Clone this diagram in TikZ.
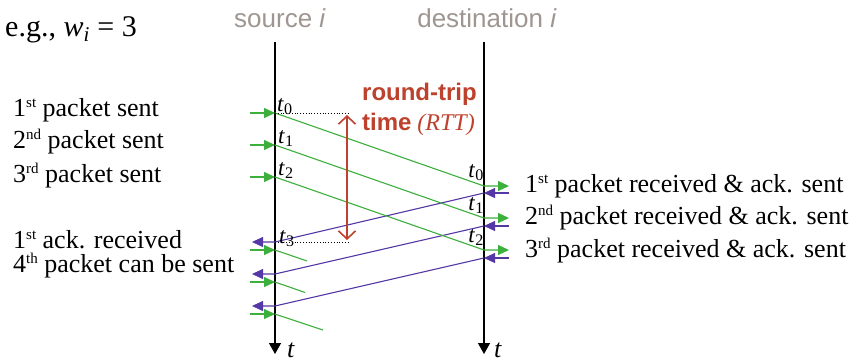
\documentclass[tikz,border=0pt]{standalone}
\usepackage{fontspec}
\setmainfont{Liberation Serif}
\setsansfont{Liberation Sans}
\usetikzlibrary{arrows.meta}
\definecolor{pgreen}{RGB}{60,175,60}
\definecolor{ppurple}{RGB}{85,55,165}
\definecolor{rttred}{RGB}{190,65,45}
\definecolor{lblgray}{RGB}{160,150,145}
\newcommand{\tsub}[1]{\textit{t}\textsubscript{#1}}
\newcommand{\ordsup}[1]{\raisebox{8.5pt}{\fontsize{15}{15}\selectfont #1}}
\tikzset{
  axis/.style={line width=1.3pt,-{Triangle[length=11pt,width=12pt]}},
  pkt/.style={pgreen,line width=1.1pt},
  pkthead/.style={pgreen,line width=1.1pt,-{Triangle[length=11pt,width=10pt]}},
  ack/.style={ppurple,line width=1.1pt},
  ackhead/.style={ppurple,line width=1.1pt,-{Triangle[length=11pt,width=10pt]}},
  rtt/.style={rttred,line width=1.6pt,{Straight Barb[length=8pt,width=17pt]}-{Straight Barb[length=8pt,width=17pt]}},
  guide/.style={black,line width=0.8pt,dotted},
  lbl/.style={font=\fontsize{26}{28}\selectfont,inner sep=0pt},
  tlbl/.style={font=\fontsize{23}{25}\selectfont,inner sep=0pt},
  head/.style={font=\fontsize{26}{28}\sffamily\selectfont,text=lblgray,inner sep=0pt},
}
\begin{document}
\begin{tikzpicture}[x=1pt,y=-1pt]
\useasboundingbox[fill=white] (0,0) rectangle (860,362);
% axes
\coordinate (Stop) at (275,42);
\coordinate (Sbot) at (275,354);
\coordinate (Dtop) at (484,42);
\coordinate (Dbot) at (484,354);
\draw[axis] (Stop) -- (Sbot);
\draw[axis] (Dtop) -- (Dbot);
\node[head,anchor=base] (src) at (280,27) {source \textit{i}};
\node[head,anchor=base] (dst) at (487,27) {destination \textit{i}};
\node[lbl,anchor=base] (ts) at (291,357) {\textit{t}};
\node[lbl,anchor=base] (td) at (498,357) {\textit{t}};
% source send points
\coordinate (S0) at (275,113);
\coordinate (S1) at (275,145);
\coordinate (S2) at (275,177);
\coordinate (Si0) at (250,113);
\coordinate (Si1) at (250,145);
\coordinate (Si2) at (250,177);
% destination receive points
\coordinate (D0) at (484,186);
\coordinate (D1) at (484,218);
\coordinate (D2) at (484,250);
\coordinate (Do0) at (509,186);
\coordinate (Do1) at (509,218);
\coordinate (Do2) at (509,250);
% ack points
\coordinate (A0) at (484,193);
\coordinate (A1) at (484,226);
\coordinate (A2) at (484,258);
\coordinate (Ai0) at (509,193);
\coordinate (Ai1) at (509,226);
\coordinate (Ai2) at (509,258);
\coordinate (R0) at (275,242);
\coordinate (R1) at (275,274);
\coordinate (R2) at (275,306);
\coordinate (Ro0) at (252,242);
\coordinate (Ro1) at (252,274);
\coordinate (Ro2) at (252,306);
% new packets
\coordinate (N0) at (275,250);
\coordinate (N1) at (275,282);
\coordinate (N2) at (275,314);
\coordinate (Ni0) at (250,250);
\coordinate (Ni1) at (250,282);
\coordinate (Ni2) at (250,314);
\coordinate (Ne0) at (307,261);
\coordinate (Ne1) at (305,292.5);
\coordinate (Ne2) at (323,330);
\foreach \k in {0,1,2}{
  \draw[pkthead] (Si\k) -- (S\k);
  \draw[pkthead] (S\k) -- (D\k) -- (Do\k);
  \draw[ackhead] (Ai\k) -- (A\k);
  \draw[ackhead] (A\k) -- (R\k) -- (Ro\k);
  \draw[pkthead] (Ni\k) -- (N\k);
  \draw[pkt] (N\k) -- (Ne\k);
}
% RTT
\coordinate (G0) at (349,113);
\coordinate (G1) at (349,242);
\draw[guide] (S0) -- (G0);
\draw[guide] (R0) -- (G1);
\coordinate (Rt) at (347,115);
\coordinate (Rb) at (347,240);
\draw[rtt] (Rt) -- (Rb);
\node[anchor=base east,inner sep=0pt,text=rttred,font=\fontsize{24}{26}\sffamily\bfseries\selectfont] (rt1) at (477,100) {round-trip};
\node[anchor=base east,inner sep=0pt,text=rttred,font=\fontsize{24}{26}\selectfont] (rt2) at (475,130) {{\sffamily\bfseries time} \textit{(RTT)}};
% t labels
\node[tlbl,anchor=base west] (st0) at (277,111) {\tsub{0}};
\node[tlbl,anchor=base west] (st1) at (278,143) {\tsub{1}};
\node[tlbl,anchor=base west] (st2) at (278,175) {\tsub{2}};
\node[tlbl,anchor=base west] (st3) at (279,243) {\tsub{3}};
\node[tlbl,anchor=base east] (dt0) at (484,177) {\tsub{0}};
\node[tlbl,anchor=base east] (dt1) at (484,210) {\tsub{1}};
\node[tlbl,anchor=base east] (dt2) at (484,242) {\tsub{2}};
% left labels
\node[lbl,anchor=base west] (l1) at (13,116) {1\ordsup{st} packet sent};
\node[lbl,anchor=base west] (l2) at (13,148) {2\ordsup{nd} packet sent};
\node[lbl,anchor=base west] (l3) at (13,182) {3\ordsup{rd} packet sent};
\node[lbl,anchor=base west] (l4) at (13,248) {1\ordsup{st} ack. received};
\node[lbl,anchor=base west] (l5) at (13,272) {4\ordsup{th} packet can be sent};
% right labels
\node[lbl,anchor=base west] (r1) at (525,192) {1\ordsup{st} packet received \& ack. sent};
\node[lbl,anchor=base west] (r2) at (525,224) {2\ordsup{nd} packet received \& ack. sent};
\node[lbl,anchor=base west] (r3) at (525,257) {3\ordsup{rd} packet received \& ack. sent};
% title
\node[anchor=base west,inner sep=0pt,font=\fontsize{30}{32}\selectfont] (eg) at (5,36) {e.g., \textit{w}\textsubscript{\textit{i}} = 3};
\end{tikzpicture}
\end{document}
